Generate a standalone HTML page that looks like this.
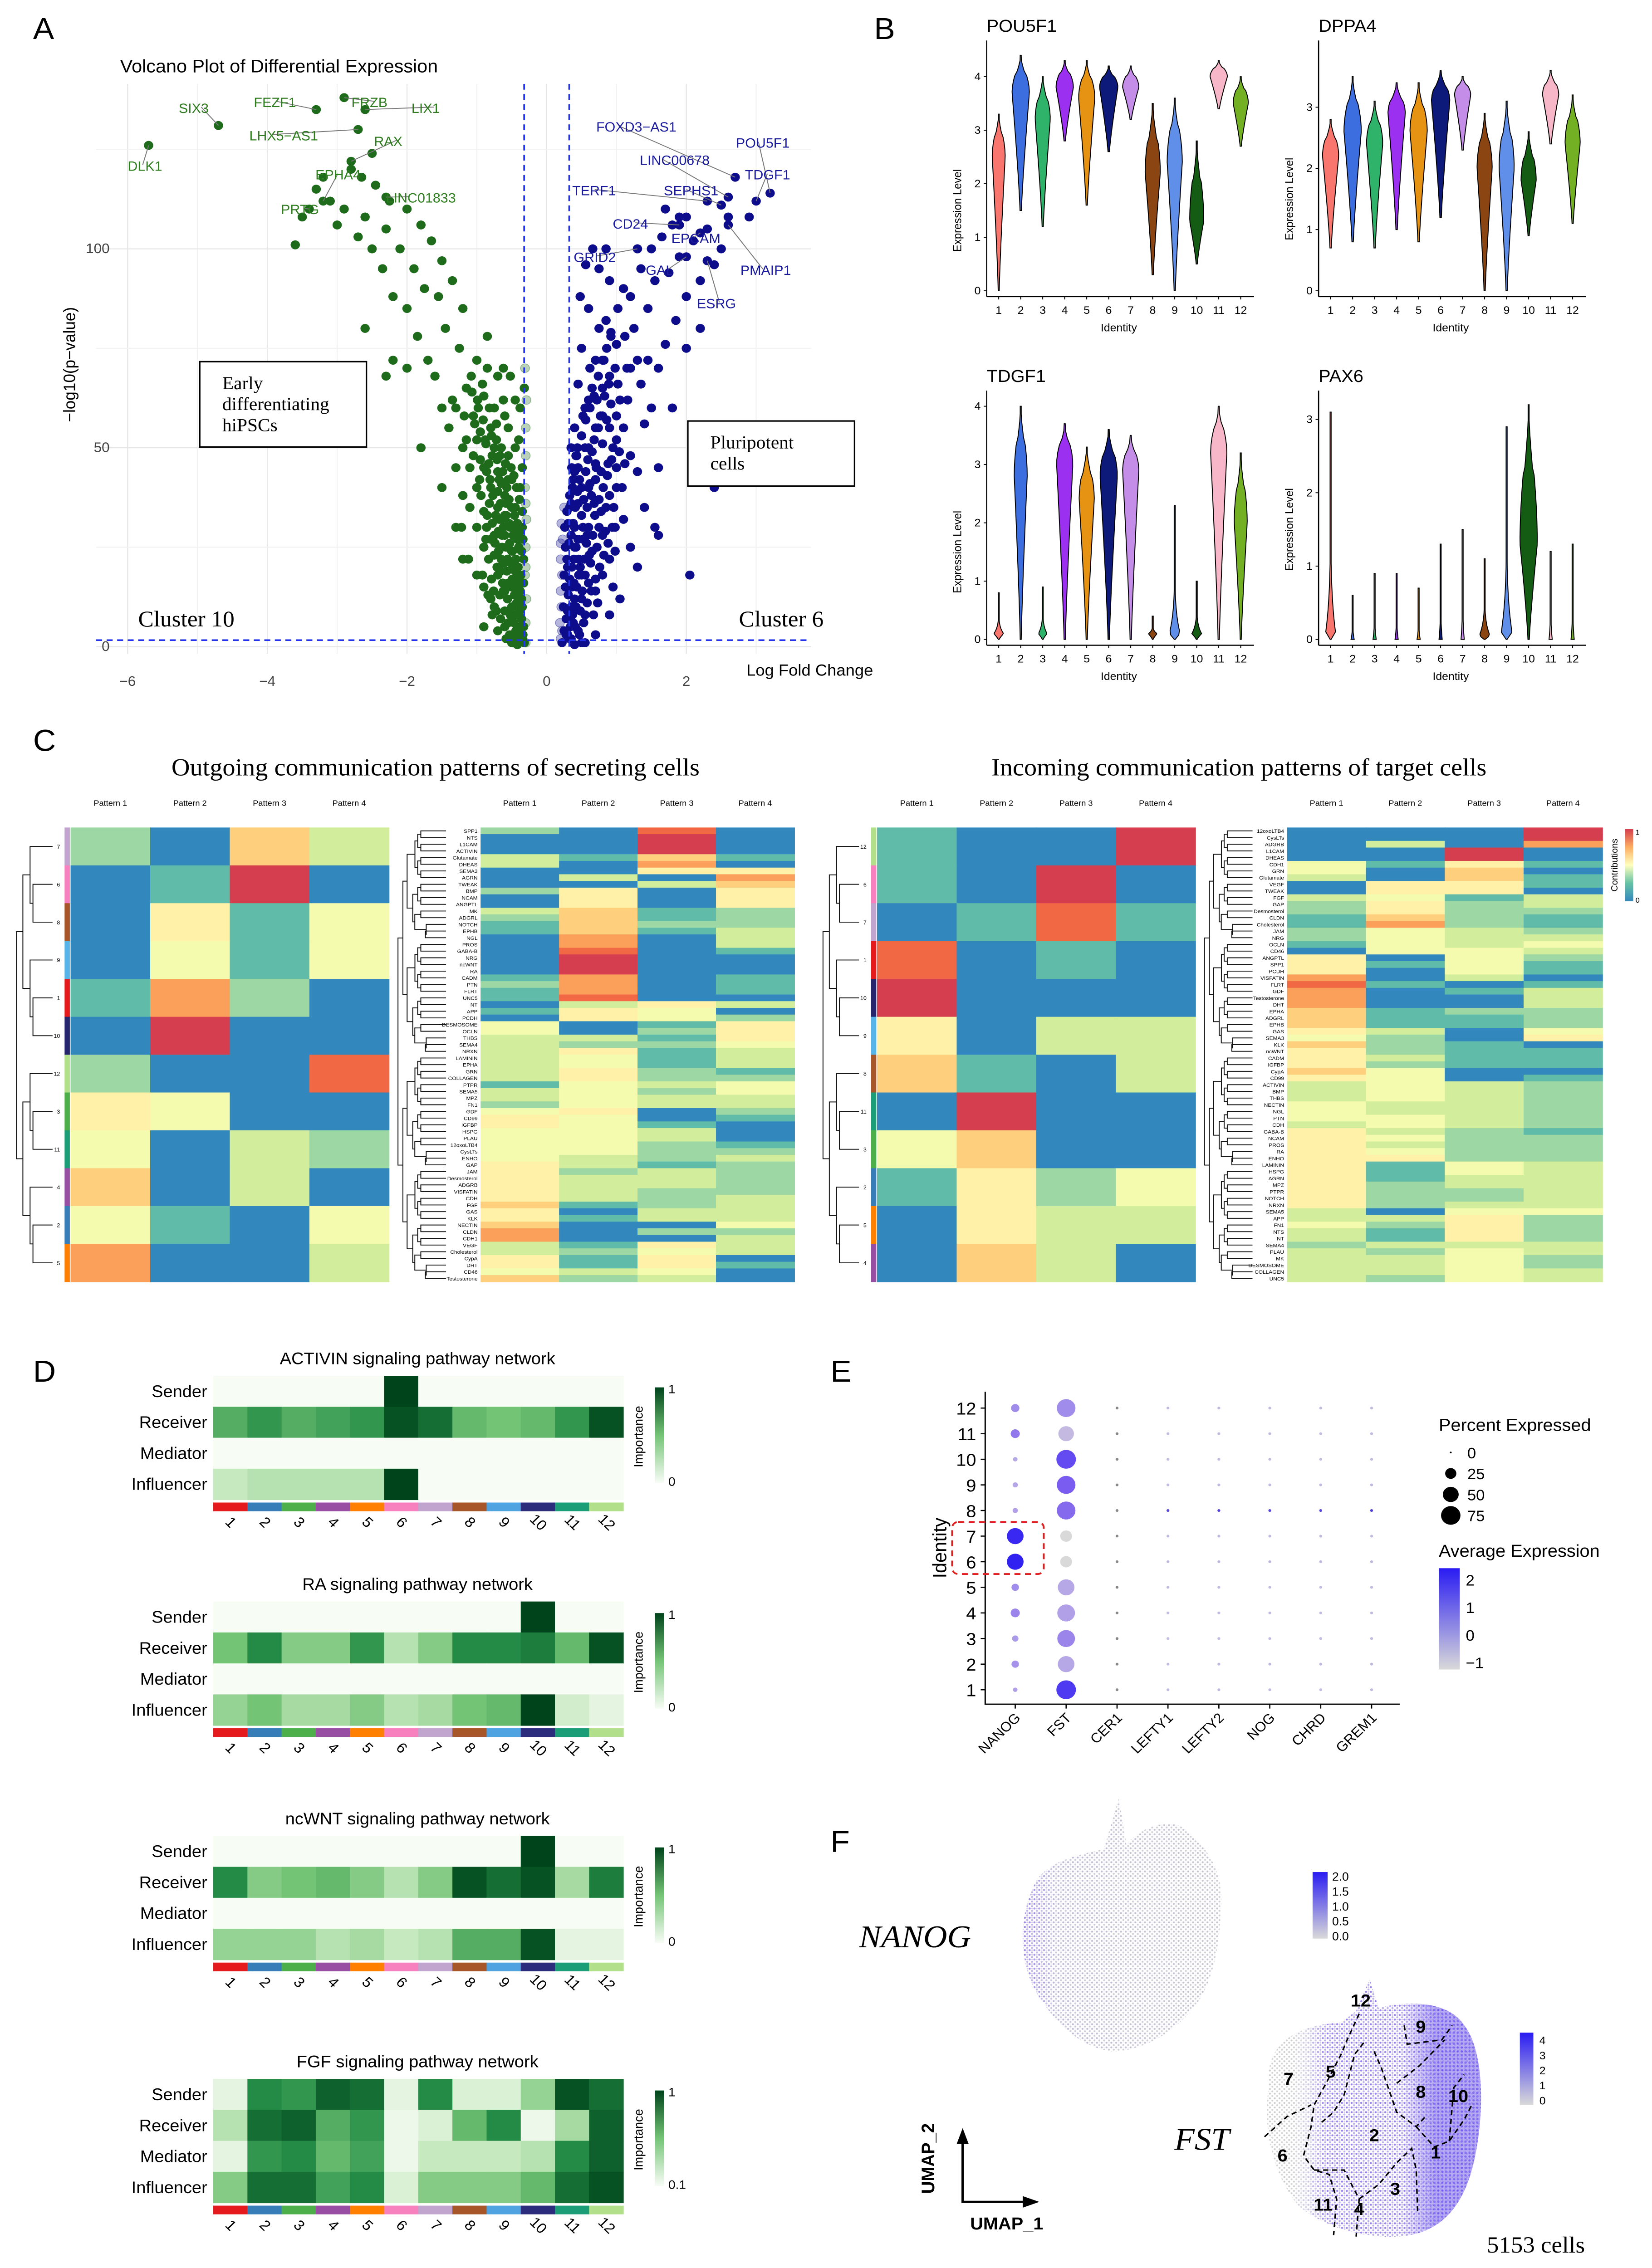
<!DOCTYPE html>
<html><head><meta charset="utf-8">
<style>
html,body{margin:0;padding:0;background:#fff;width:100vw;height:100vh;overflow:hidden;}
svg{display:block;position:absolute;left:0;top:0;width:100vw;height:100vh;}
text{font-family:"Liberation Sans",sans-serif;}
.serif{font-family:"Liberation Serif",serif;}
</style></head>
<body>
<svg id="fig" xmlns="http://www.w3.org/2000/svg" viewBox="0 0 1100 1567.7" preserveAspectRatio="none">
<defs>
<pattern id="greyDots" width="3.2" height="3.2" patternUnits="userSpaceOnUse"><circle cx="0.8" cy="0.8" r="0.65" fill="#cdcdcd"/><circle cx="2.4" cy="2.4" r="0.65" fill="#d4d4d4"/></pattern>
<pattern id="purpDots" width="3.2" height="3.2" patternUnits="userSpaceOnUse"><circle cx="0.8" cy="0.8" r="0.7" fill="#9a83ee"/><circle cx="2.4" cy="2.4" r="0.7" fill="#bdb0ea"/><circle cx="2.4" cy="0.8" r="0.55" fill="#cfc8ea"/></pattern>
<pattern id="purpDense" width="2.6" height="2.6" patternUnits="userSpaceOnUse"><rect width="2.6" height="2.6" fill="#a597ef"/><circle cx="0.9" cy="0.9" r="0.8" fill="#6a50f0"/></pattern>
<linearGradient id="gradSpec" x1="0" y1="1" x2="0" y2="0"><stop offset="0" stop-color="#3288bd"/><stop offset="0.25" stop-color="#66c2a5"/><stop offset="0.5" stop-color="#ffffbf"/><stop offset="0.75" stop-color="#fdae61"/><stop offset="1" stop-color="#d53e4f"/></linearGradient>
<linearGradient id="gradGreen" x1="0" y1="1" x2="0" y2="0"><stop offset="0" stop-color="#f7fcf5"/><stop offset="0.5" stop-color="#74c476"/><stop offset="1" stop-color="#00441b"/></linearGradient>
<linearGradient id="gradBlue" x1="0" y1="1" x2="0" y2="0"><stop offset="0" stop-color="#d9d9d9"/><stop offset="1" stop-color="#2a1cf2"/></linearGradient>
<linearGradient id="gradUmap" x1="0" y1="1" x2="0" y2="0"><stop offset="0" stop-color="#d9d9d9"/><stop offset="1" stop-color="#2a1cf2"/></linearGradient>
<linearGradient id="fadeN" x1="675" y1="0" x2="815" y2="0" gradientUnits="userSpaceOnUse"><stop offset="0" stop-color="#fff"/><stop offset="0.08" stop-color="#ddd"/><stop offset="0.2" stop-color="#444"/><stop offset="0.5" stop-color="#2a2a2a"/><stop offset="1" stop-color="#1a1a1a"/></linearGradient>
<linearGradient id="fadeFL" x1="838" y1="0" x2="985" y2="0" gradientUnits="userSpaceOnUse"><stop offset="0" stop-color="#fff"/><stop offset="0.15" stop-color="#fff"/><stop offset="0.3" stop-color="#000"/><stop offset="1" stop-color="#000"/></linearGradient>
<linearGradient id="fadeFR" x1="838" y1="0" x2="985" y2="0" gradientUnits="userSpaceOnUse"><stop offset="0" stop-color="#000"/><stop offset="0.65" stop-color="#000"/><stop offset="0.8" stop-color="#fff"/><stop offset="1" stop-color="#fff"/></linearGradient>
<mask id="maskN" maskUnits="userSpaceOnUse" x="600" y="1200" width="350" height="300"><rect x="660" y="1230" width="170" height="200" fill="url(#fadeN)"/></mask>
<mask id="maskFL" maskUnits="userSpaceOnUse" x="800" y="1340" width="260" height="240"><rect x="830" y="1360" width="170" height="200" fill="url(#fadeFL)"/></mask>
<mask id="maskFR" maskUnits="userSpaceOnUse" x="800" y="1340" width="260" height="240"><rect x="830" y="1360" width="170" height="200" fill="url(#fadeFR)"/></mask>
<clipPath id="clipN"><path d="M690,1300 C700,1285 720,1282 735,1278 L745,1243 L750,1275 C760,1262 780,1256 790,1265 C805,1278 815,1295 813,1320 C812,1345 808,1365 800,1380 C785,1405 760,1418 740,1418 C720,1415 705,1400 695,1385 C680,1365 675,1330 690,1300Z"/></clipPath>
<clipPath id="clipF"><path d="M845,1442 C842,1415 860,1400 893,1398 L903,1390 L912,1368 L918,1388 C940,1382 965,1384 975,1400 C990,1420 988,1470 980,1500 C972,1530 955,1545 930,1546 C905,1547 880,1538 865,1525 C848,1505 840,1470 845,1442Z"/></clipPath>
</defs>
</svg>
<script>
const NS='http://www.w3.org/2000/svg';
const fig=document.getElementById('fig');
function mk(tag,attrs,parent){const e=document.createElementNS(NS,tag);for(const k in attrs)e.setAttribute(k,attrs[k]);(parent||fig).appendChild(e);return e;}
function tx(x,y,s,size,extra){const e=mk('text',Object.assign({x:x,y:y,'font-size':size},extra||{}));e.textContent=s;return e;}
function lerpColor(stops,v){v=Math.max(0,Math.min(1,v));const n=stops.length-1;const i=Math.min(n-1,Math.floor(v*n));const t=v*n-i;
 const a=stops[i],b=stops[i+1];const p=h=>[parseInt(h.substr(1,2),16),parseInt(h.substr(3,2),16),parseInt(h.substr(5,2),16)];
 const A=p(a),B=p(b);return 'rgb('+A.map((c,k)=>Math.round(c+(B[k]-c)*t)).join(',')+')';}
const spectral=['#3288bd','#66c2a5','#abdda4','#e6f598','#ffffbf','#fee08b','#fdae61','#f46d43','#d53e4f'];
const greens=['#f7fcf5','#c7e9c0','#74c476','#238b45','#00441b'];

/* ================= PANEL LABELS ================= */
const panelLetters=['A','B','C','D','E','F'];
const panelLX=[22,582,22,22,553,553];
const panelLY=[27,27,519,955,955,1280];
panelLetters.forEach((l,i)=>{const t=tx(panelLX[i],panelLY[i],l,21);

});

/* ================= PANEL A: VOLCANO ================= */
const greenPoints=[[-0.35,2],[-0.38,5],[-0.4,8],[-0.36,12],[-0.42,15],[-0.45,3],[-0.5,10],[-0.55,6],[-0.48,20],[-0.6,14],[-0.4,25],[-0.65,22],[-0.7,18],[-0.52,30],[-0.75,28],[-0.8,12],[-0.45,35],[-0.6,38],[-0.85,33],[-0.9,25],[-0.38,40],[-0.7,44],[-1.0,40],[-0.55,48],[-0.95,47],[-1.1,35],[-0.4,52],[-0.8,55],[-1.2,50],[-0.6,58],[-1.05,58],[-1.3,45],[-0.45,62],[-0.9,63],[-1.4,55],[-1.15,65],[-0.7,68],[-1.35,62],[-1.5,60],[-1.0,72],[-1.25,75],[-1.6,68],[-0.85,78],[-1.45,80],[-1.7,72],[-1.2,85],[-1.55,88],[-1.85,78],[-1.35,92],[-1.75,90],[-2.0,85],[-1.5,97],[-1.9,95],[-2.2,88],[-1.65,102],[-2.1,100],[-2.35,95],[-1.8,106],[-2.3,105],[-2.5,100],[-2.0,110],[-2.6,108],[-2.7,103],[-2.25,112],[-2.9,110],[-3.0,106],[-2.45,116],[-3.1,112],[-2.65,118],[-3.3,115],[-2.8,120],[-3.5,108],[-3.2,118],[-2.5,124],[-3.6,101],[-1.3,30],[-1.5,40],[-1.8,50],[-0.5,42],[-0.65,32],[-0.75,10],[-0.58,2],[-0.9,5],[-1.0,18],[-1.2,22],[-0.42,0.5],[-0.55,16],[-0.35,45],[-0.38,60],[-0.62,70],[-2.2,72],[-2.6,80],[-0.32,65],[-2.3,68],[-2.0,70],[-0.4,18],[-0.5,24],[-0.6,28],[-0.7,35],[-0.8,40],[-0.9,45],[-0.35,30],[-0.45,50],[-0.55,55],[-0.65,50],[-0.75,60],[-1.0,52],[-1.1,45],[-1.2,38],[-1.3,60],[-0.85,70],[-1.0,30],[-0.9,15],[-0.7,4],[-0.5,1],[-0.33,22],[-0.48,28],[-0.58,36],[-0.68,42],[-0.78,48],[-0.88,52],[-0.98,60],[-1.08,68],[-0.72,52],[-0.62,62],[-0.52,68]];
const greenDense=[[-0.32,1],[-0.34,3],[-0.37,1.5],[-0.41,2.5],[-0.44,4],[-0.47,6],[-0.36,7],[-0.39,9],[-0.43,11],[-0.46,13],[-0.5,15],[-0.33,16],[-0.37,18],[-0.41,20],[-0.44,22],[-0.49,24],[-0.53,26],[-0.57,19],[-0.61,21],[-0.64,25],[-0.34,27],[-0.38,29],[-0.42,31],[-0.46,33],[-0.5,35],[-0.54,37],[-0.58,33],[-0.62,30],[-0.66,36],[-0.7,39],[-0.74,26],[-0.78,31],[-0.82,36],[-0.86,30],[-0.9,34],[-0.94,38],[-0.52,8],[-0.56,12],[-0.6,9],[-0.63,16],[-0.67,13],[-0.71,20],[-0.75,23],[-0.79,17],[-0.83,22],[-0.87,27],[-0.35,34],[-0.39,37],[-0.43,40],[-0.47,43],[-0.51,45],[-0.55,42],[-0.59,46],[-0.63,44],[-0.67,48],[-0.71,47],[-0.75,50],[-0.79,53],[-0.83,46],[-0.87,51],[-0.91,57],[-0.95,54],[-0.99,62],[-1.03,56],[-1.07,64],[-0.4,4],[-0.45,8],[-0.36,24],[-0.48,1],[-0.53,3],[-0.6,5],[-0.66,7],[-0.72,9],[-0.78,8],[-0.84,13],[-0.92,18],[-1.12,22],[-1.22,30],[-0.42,27],[-0.47,30],[-0.56,22],[-0.6,33],[-0.69,29],[-0.73,33],[-0.77,38],[-0.81,42],[-0.86,44],[-0.96,42],[-1.05,48],[-1.15,52],[-1.18,58],[-0.57,40],[-0.65,41],[-0.72,56],[-0.82,60],[-0.92,66],[-0.33,5],[-0.38,14],[-0.49,17],[-0.62,14],[-0.54,31],[-0.66,19],[-0.35,10],[-0.4,16],[-0.45,19],[-0.51,21],[-0.58,25],[-0.64,28],[-0.69,24],[-0.76,14],[-0.8,27],[-0.68,32]];
const greenLabeled=[[-5.7,126],[-4.7,131],[-3.3,135],[-2.9,138],[-2.6,135],[-2.7,130],[-2.8,122],[-3.2,112],[-3.4,110],[-2.3,113]];
const greenNames=['DLK1','SIX3','FEZF1','FRZB','LIX1','LHX5−AS1','RAX','EPHA4','PRTG','LINC01833'];
const blueNames=['POU5F1','TDGF1','FOXD3−AS1','LINC00678','SEPHS1','TERF1','CD24','EPCAM','GAL','GRID2','ESRG','PMAIP1'];
const blueLabeled=[[3.2,114],[3.0,112],[2.7,118],[2.6,113],[2.5,111],[2.3,112],[1.9,106],[2.2,104],[2.0,98],[1.3,100],[2.3,97],[2.6,106]];
const bluePoints=[[0.35,2],[0.38,6],[0.42,10],[0.36,15],[0.45,4],[0.5,12],[0.55,8],[0.48,20],[0.6,16],[0.4,25],[0.65,24],[0.7,14],[0.52,30],[0.75,30],[0.8,18],[0.45,36],[0.6,40],[0.85,35],[0.9,22],[0.38,42],[0.7,46],[1.0,40],[0.55,50],[0.95,50],[1.1,32],[0.4,55],[0.8,58],[1.2,48],[0.6,62],[1.05,62],[1.3,44],[0.45,66],[0.9,68],[1.4,56],[1.15,70],[0.7,72],[1.35,66],[1.5,60],[1.0,76],[1.25,80],[1.6,70],[0.85,82],[1.45,85],[1.7,76],[1.2,88],[1.55,92],[1.85,82],[1.35,95],[1.75,94],[2.0,88],[1.5,100],[1.9,98],[2.2,92],[1.65,103],[2.1,102],[2.4,96],[1.8,106],[2.3,105],[2.5,100],[2.0,108],[2.6,108],[1.1,90],[0.9,92],[1.3,100],[0.5,75],[0.6,85],[0.75,95],[1.0,58],[1.2,25],[1.4,35],[1.6,45],[0.4,0.5],[0.55,1],[0.7,3],[0.9,8],[1.05,12],[0.3,20],[0.33,35],[0.35,50],[1.8,60],[2.0,75],[2.2,80],[1.9,108],[2.2,104],[2.5,111],[2.9,108],[1.7,110],[2.05,18],[2.4,40],[0.4,30],[0.5,40],[0.6,50],[0.7,55],[0.8,65],[0.45,45],[0.55,60],[0.65,65],[0.75,80],[0.9,55],[1.0,45],[1.1,55],[0.8,28],[0.95,15],[0.5,18],[0.35,10],[0.42,48],[0.52,58],[0.62,70],[0.72,62],[0.82,72],[0.92,78],[1.02,85],[1.12,78],[0.58,28],[0.68,36],[0.78,44],[0.88,46],[0.98,30],[1.3,72],[1.45,72],[0.48,88],[0.56,96],[0.66,100],[0.85,100]];
const blueDense=[[0.22,1],[0.25,4],[0.28,7],[0.24,10],[0.3,3],[0.34,5],[0.37,8],[0.4,12],[0.43,15],[0.46,18],[0.31,13],[0.33,17],[0.36,20],[0.39,22],[0.42,25],[0.45,27],[0.48,9],[0.51,14],[0.54,22],[0.57,26],[0.6,30],[0.63,21],[0.66,28],[0.69,33],[0.72,25],[0.75,37],[0.78,34],[0.81,40],[0.84,29],[0.87,43],[0.9,38],[0.93,47],[0.96,35],[1.0,52],[1.04,49],[0.35,28],[0.38,31],[0.41,35],[0.44,39],[0.47,42],[0.5,33],[0.53,37],[0.56,44],[0.59,47],[0.62,41],[0.65,49],[0.68,52],[0.71,45],[0.74,55],[0.77,58],[0.8,51],[0.83,63],[0.86,57],[0.89,66],[0.92,61],[0.27,15],[0.29,22],[0.32,26],[0.26,30],[0.29,34],[0.33,38],[0.37,40],[0.4,44],[0.3,9],[0.41,5],[0.47,3],[0.53,6],[0.58,11],[0.64,14],[0.7,17],[0.76,20],[0.82,23],[0.88,26],[0.94,30],[0.98,24],[1.08,40],[1.12,46],[1.16,62],[1.2,70],[0.44,50],[0.5,53],[0.56,57],[0.62,60],[0.68,63],[0.74,68],[0.8,72],[0.86,75],[0.92,79],[0.98,70],[1.02,66],[0.36,45],[0.43,48],[0.55,18],[0.61,23],[0.67,8],[0.73,11],[0.25,18],[0.33,2],[0.5,1],[1.3,20],[1.55,30],[1.6,28],[0.27,25],[0.31,31],[0.35,36],[0.39,16],[0.46,22],[0.52,27],[0.58,35],[0.64,38],[0.7,42],[0.28,3]];
const fadedGreen=[[-0.3,1],[-0.3,6],[-0.29,12],[-0.31,18],[-0.3,25],[-0.29,32],[-0.31,40],[-0.3,48],[-0.3,55],[-0.29,62],[-0.31,70],[-0.3,36],[-0.3,20]];
const fadedBlue=[[0.2,2],[0.19,6],[0.21,10],[0.2,14],[0.22,18],[0.2,22],[0.23,27],[0.21,31],[0.25,35],[0.2,26],[0.22,4]];
const xTicksA=[-6,-4,-2,0,2];
const yTicksA=[0,50,100];
const xA=v=>364+v*46.5;
const yA=v=>447-v*2.75;
const gA=mk('g',{});


const ttlA=tx(80,50,'Volcano Plot of Differential Expression',12.5,{});gA.appendChild(ttlA);


for(let v=-6;v<=3;v+=1){const l=mk('line',{x1:xA(v),x2:xA(v),y1:58,y2:452,stroke:v%2===0?'#e6e6e6':'#f2f2f2','stroke-width':0.7},gA);

}
for(let v=0;v<=125;v+=25){const l=mk('line',{x1:64,x2:540,y1:yA(v),y2:yA(v),stroke:v%50===0?'#e6e6e6':'#f2f2f2','stroke-width':0.7},gA);

}
xTicksA.forEach(v=>{const t=tx(xA(v),474,String(v).replace('-','−'),9.5,{'text-anchor':'middle',fill:'#444'});gA.appendChild(t);

});
yTicksA.forEach(v=>{const t=tx(73,yA(v)+3,String(v),9.5,{'text-anchor':'end',fill:'#444'});gA.appendChild(t);

});
const xl=tx(497,467,'Log Fold Change',11,{});gA.appendChild(xl);


const yl=tx(0,0,'−log10(p−value)',11,{transform:'translate(50,252) rotate(-90)','text-anchor':'middle'});gA.appendChild(yl);


fadedGreen.forEach(p=>{const c=mk('circle',{cx:xA(p[0]),cy:yA(p[1]),r:3,fill:'#1f6b1c','fill-opacity':0.3,stroke:'#1f6b1c','stroke-opacity':0.4,'stroke-width':0.5},gA);

});
fadedBlue.forEach(p=>{const c=mk('circle',{cx:xA(p[0]),cy:yA(p[1]),r:3,fill:'#0d0d8c','fill-opacity':0.3,stroke:'#0d0d8c','stroke-opacity':0.4,'stroke-width':0.5},gA);

});
greenPoints.concat(greenDense,greenLabeled).forEach(p=>{const c=mk('circle',{cx:xA(p[0]),cy:yA(p[1]),r:3.1,fill:'#1f6b1c'},gA);

});
bluePoints.concat(blueDense,blueLabeled).forEach(p=>{const c=mk('circle',{cx:xA(p[0]),cy:yA(p[1]),r:3.1,fill:'#0d0d8c'},gA);

});
[349,379].forEach(x=>{const l=mk('line',{x1:x,x2:x,y1:58,y2:452,stroke:'#2233ee','stroke-width':1.1,'stroke-dasharray':'4,3'},gA);

});
const hl=mk('line',{x1:64,x2:540,y1:442.5,y2:442.5,stroke:'#2233ee','stroke-width':1.1,'stroke-dasharray':'4,3'},gA);


const gLabX=[85,119,169,234,274,166,249,210,187,257];
const gLabY=[118,78,74,74,78,97,101,124,148,140];
greenNames.forEach((n,i)=>{const px=xA(greenLabeled[i][0]),py=yA(greenLabeled[i][1]);
const ln=mk('line',{x1:px,y1:py,x2:gLabX[i]+(i===0?10:15),y2:gLabY[i]-4,stroke:'#777','stroke-width':0.6},gA);


const t=tx(gLabX[i],gLabY[i],n,9.2,{fill:'#2e7d1e'});gA.appendChild(t);

});
const bLabX=[490,496,397,426,442,381,408,447,430,382,464,493];
const bLabY=[102,124,91,114,135,135,158,168,190,181,213,190];
blueNames.forEach((n,i)=>{const px=xA(blueLabeled[i][0]),py=yA(blueLabeled[i][1]);
const ln=mk('line',{x1:px,y1:py,x2:bLabX[i]+15,y2:bLabY[i]-4,stroke:'#777','stroke-width':0.6},gA);


const t=tx(bLabX[i],bLabY[i],n,9.2,{fill:'#1a1a9c'});gA.appendChild(t);

});
const box1=mk('rect',{x:133,y:250,width:111,height:59,fill:'#fff',stroke:'#000','stroke-width':1},gA);


['Early','differentiating','hiPSCs'].forEach((s,i)=>{const t=tx(148,269+i*14.5,s,12.5,{class:'serif'});gA.appendChild(t);

});
const box2=mk('rect',{x:458,y:291,width:111,height:45,fill:'#fff',stroke:'#000','stroke-width':1},gA);


['Pluripotent','cells'].forEach((s,i)=>{const t=tx(473,310+i*14.5,s,12.5,{class:'serif'});gA.appendChild(t);

});
const c10=tx(92,433,'Cluster 10',15.5,{class:'serif'});gA.appendChild(c10);


const c6=tx(492,433,'Cluster 6',15.5,{class:'serif'});gA.appendChild(c6);



/* ================= PANEL B: VIOLINS ================= */
const identities=[1,2,3,4,5,6,7,8,9,10,11,12];
const violinColors=['#f8766d','#3d6ee0','#2fb36a','#9b30f0','#e69212','#0d1a7a','#c48de8','#8b4513','#5f8fe8','#145c14','#f7b7c8','#74b024'];
const pouTop=[3.3,4.4,4.0,4.3,4.3,4.2,4.2,3.5,3.6,2.8,4.3,4.0];
const pouPeak=[2.5,3.7,3.2,3.8,3.6,3.8,3.8,2.2,2.4,1.3,4.0,3.5];
const pouBot=[0,1.5,1.2,2.8,1.6,2.6,3.2,0.3,0,0.5,3.4,2.7];
const pouW=[0.6,0.8,0.7,0.8,0.75,0.85,0.75,0.7,0.7,0.65,0.8,0.7];
const dppTop=[2.8,3.5,3.1,3.4,3.4,3.6,3.5,2.9,3.1,2.6,3.6,3.2];
const dppPeak=[2.2,2.6,2.4,2.9,2.6,3.1,3.2,2.0,2.0,1.8,3.2,2.4];
const dppBot=[0.7,0.8,0.7,1.0,0.8,1.2,2.3,0,0,0.9,2.4,1.1];
const dppW=[0.75,0.8,0.75,0.8,0.8,0.85,0.75,0.7,0.7,0.7,0.75,0.7];
const tdgTop=[0.8,4.0,0.9,3.7,3.3,3.6,3.5,0.4,2.3,1.0,4.0,3.2];
const tdgPeak=[0.1,2.8,0.1,3.0,2.4,2.8,2.9,0.1,0.1,0.1,3.2,2.0];
const tdgBot=[0,0,0,0,0,0,0,0,0,0,0,0];
const tdgW=[0.45,0.6,0.4,0.75,0.7,0.8,0.75,0.4,0.5,0.45,0.75,0.6];
const paxTop=[3.1,0.6,0.9,0.9,0.7,1.3,1.5,1.1,2.9,3.2,1.2,1.3];
const paxPeak=[0.05,0,0,0,0,0,0,0.05,0.1,1.3,0,0];
const paxBot=[0,0,0,0,0,0,0,0,0,0,0,0];
const paxW=[0.5,0.15,0.15,0.15,0.15,0.15,0.15,0.5,0.5,0.8,0.15,0.15];
const violinTicksPou=[0,1,2,3,4], violinTicksDpp=[0,1,2,3], violinTicksTdg=[0,1,2,3,4], violinTicksPax=[0,1,2,3];
function violinPanel(name,gx,y0,ppu,top,peak,bot,wid,ticks,titleY){
 const g=mk('g',{});
 
 
 const x0=gx+8, step=14.65;
 const yS=v=>y0-v*ppu;
 const t=tx(gx,titleY,name,12,{});g.appendChild(t);
 
 
 const ax=mk('line',{x1:gx,x2:gx,y1:titleY+6,y2:y0+4,stroke:'#000','stroke-width':0.8},g);
 
 
 const bx=mk('line',{x1:gx,x2:gx+178,y1:y0+4,y2:y0+4,stroke:'#000','stroke-width':0.8},g);
 
 
 ticks.forEach(v=>{const l=tx(gx-4,yS(v)+2.5,String(v),7.5,{'text-anchor':'end'});g.appendChild(l);
  
  
  const tk=mk('line',{x1:gx-2,x2:gx,y1:yS(v),y2:yS(v),stroke:'#000','stroke-width':0.6},g);
  
  });
 const yl=tx(0,0,'Expression Level',7.5,{transform:'translate('+(gx-17)+','+(y0-ppu*1.5)+') rotate(-90)','text-anchor':'middle'});g.appendChild(yl);
 
 
 const xl=tx(gx+88,y0+28,'Identity',7.5,{'text-anchor':'middle'});g.appendChild(xl);
 
 
 identities.forEach((id,i)=>{
  const cx=x0+i*step, W=wid[i]*7.2;
  const b=bot[i],p=peak[i],tp=top[i];
  const pts=[];const N=30;
  for(let k=0;k<=N;k++){const v=b+(tp-b)*k/N;let w;
   if(v<=p){w=(p-b)<1e-6?W:W*(0.08+0.92*Math.pow((v-b)/(p-b),1.2));}
   else{const r=(v-p)/(tp-p);
    if(p-b<0.2){w=W*Math.pow(Math.max(0,1-r),6);}
    else{w=W*Math.pow(Math.max(0,1-r*r),1.6)*(r>0.5?0.6+0.4*(1-r):1);}
    if(w<0.35)w=0.35;}
   pts.push([w,yS(v)]);}
  let d='M'+cx+','+yS(b);
  pts.forEach(q=>d+=' L'+(cx+q[0]).toFixed(2)+','+q[1].toFixed(2));
  d+=' L'+cx+','+yS(tp);
  for(let k=pts.length-1;k>=0;k--)d+=' L'+(cx-pts[k][0]).toFixed(2)+','+pts[k][1].toFixed(2);
  d+='Z';
  const vp=mk('path',{d:d,fill:violinColors[i],stroke:'#000','stroke-width':0.6},g);
  
  
  const lb=tx(cx,y0+16,String(id),7.5,{'text-anchor':'middle'});g.appendChild(lb);
  
  
  const tk=mk('line',{x1:cx,x2:cx,y1:y0+4,y2:y0+6,stroke:'#000','stroke-width':0.6},g);
  
  });
}
violinPanel('POU5F1',657,201,37,pouTop,pouPeak,pouBot,pouW,violinTicksPou,22);
violinPanel('DPPA4',878,201,42.3,dppTop,dppPeak,dppBot,dppW,violinTicksDpp,22);
violinPanel('TDGF1',657,442,40.3,tdgTop,tdgPeak,tdgBot,tdgW,violinTicksTdg,264);
violinPanel('PAX6',878,442,50.7,paxTop,paxPeak,paxBot,paxW,violinTicksPax,264);

/* ================= PANEL C: HEATMAPS ================= */
const patternLabels=['Pattern 1','Pattern 2','Pattern 3','Pattern 4'];
const identityColors=['#e41a1c','#377eb8','#4daf4a','#984ea3','#ff7f00','#f781bf','#c2a5cf','#a65628','#56b4e9','#26266e','#1b9e77','#b2df8a'];
const outRowIds=[7,6,8,9,1,10,12,3,11,4,2,5];
const outVals=[[2,0,6,3],[0,1,9,0],[0,5,1,4],[0,4,1,4],[1,7,2,0],[0,9,0,0],[2,0,0,8],[5,4,0,0],[4,0,3,2],[6,0,3,0],[4,1,0,4],[7,0,0,3]];
const inRowIds=[12,6,7,1,10,9,8,11,3,2,5,4];
const inVals=[[1,0,0,9],[1,0,9,0],[0,1,8,1],[8,0,1,0],[9,0,0,0],[5,0,3,3],[6,1,0,3],[0,9,0,0],[4,6,0,0],[1,5,2,4],[0,5,3,3],[0,6,3,0]];
const outSigNames=['SPP1','NTS','L1CAM','ACTIVIN','Glutamate','DHEAS','SEMA3','AGRN','TWEAK','BMP','NCAM','ANGPTL','MK','ADGRL','NOTCH','EPHB','NGL','PROS','GABA-B','NRG','ncWNT','RA','CADM','PTN','FLRT','UNC5','NT','APP','PCDH','DESMOSOME','OCLN','THBS','SEMA4','NRXN','LAMININ','EPHA','GRN','COLLAGEN','PTPR','SEMA5','MPZ','FN1','GDF','CD99','IGFBP','HSPG','PLAU','12oxoLTB4','CysLTs','ENHO','GAP','JAM','Desmosterol','ADGRB','VISFATIN','CDH','FGF','GAS','KLK','NECTIN','CLDN','CDH1','VEGF','Cholesterol','CypA','DHT','CD46','Testosterone'];
const outSigVals=['2080','0090','0090','0090','3161','3070','0055','0307','0036','2505','0505','0505','3612','2612','1622','1613','0703','0703','0801','0900','0900','0900','1701','2701','1701','1800','0353','1540','0542','4015','4025','3315','3224','3513','3413','3413','3521','3522','1434','3424','3433','2433','4502','5401','5410','4430','4430','4421','4422','4323','5312','5232','5332','5332','5322','5323','6123','5033','5133','6004','7022','7003','3153','3243','5150','5151','4340','6230'];
const inSigNames=['12oxoLTB4','CysLTs','ADGRB','L1CAM','DHEAS','CDH1','GRN','Glutamate','VEGF','TWEAK','FGF','GAP','Desmosterol','CLDN','Cholesterol','JAM','NRG','OCLN','CD46','ANGPTL','SPP1','PCDH','VISFATIN','FLRT','GDF','Testosterone','DHT','EPHA','ADGRL','EPHB','GAS','SEMA3','KLK','ncWNT','CADM','IGFBP','CypA','CD99','ACTIVIN','BMP','THBS','NECTIN','NGL','PTN','CDH','GABA-B','NCAM','PROS','RA','ENHO','LAMININ','HSPG','AGRN','MPZ','PTPR','NOTCH','NRXN','SEMA5','APP','FN1','NTS','NT','SEMA4','PLAU','MK','DESMOSOME','COLLAGEN','UNC5'];
const inSigVals=['0009','0009','0307','0090','0090','4151','4060','3061','0551','0550','3413','2523','2522','1621','1721','2432','2433','1434','0443','5042','5141','5041','7030','8101','7013','7003','7003','6122','6112','6112','5304','4205','6210','5211','5311','5211','6400','5401','3432','3432','3432','4332','4332','4432','3432','5321','5422','5322','5422','5522','5143','5143','5133','5233','5223','5223','5233','3044','3352','4252','3152','3152','2333','3243','3342','3342','3343','3243'];
function dendro(x0,x1,yTop,rowH,n,g){
 function rec(a,b,depth){ if(b-a===1){return {y:yTop+(a+0.5)*rowH,x:x1};}
  const m=Math.floor((a+b)/2);const L=rec(a,m,depth+1),R=rec(m,b,depth+1);
  const levels=Math.ceil(Math.log2(n))+1;const x=x0+(x1-x0)*(depth/levels)*(0.7+0.3*((a*7+b*3)%5)/5);
  const p=mk('path',{d:'M'+L.x+','+L.y+' H'+x+' V'+R.y+' H'+R.x,fill:'none',stroke:'#111','stroke-width':0.6},g);
  
  
  return {y:(L.y+R.y)/2,x:x};}
 rec(0,n,0);
}
function heat12(name,x,y,w,h,ids,vals){
 const g=mk('g',{});
 
 
 const cw=w/4,rh=h/ids.length;
 patternLabels.forEach((p,j)=>{const t=tx(x+cw*(j+0.5),y-15,p,5.5,{'text-anchor':'middle'});g.appendChild(t);
  
  });
 ids.forEach((id,i)=>{
  const s=mk('rect',{x:x-4,y:y+i*rh,width:3.5,height:rh+0.2,fill:identityColors[id-1]},g);
  
  
  const lb=tx(x-7,y+(i+0.5)*rh+1.5,String(id),3.8,{'text-anchor':'end'});g.appendChild(lb);
  
  
  vals[i].forEach((v,j)=>{const r=mk('rect',{x:x+j*cw,y:y+i*rh,width:cw+0.3,height:rh+0.3,fill:lerpColor(spectral,v/9)},g);
   
   });});
 dendro(x-36,x-12,y,rh,ids.length,g);
}
function heatSig(name,x,y,w,h,names,vals){
 const g=mk('g',{});
 
 
 const cw=w/4,rh=h/names.length;
 patternLabels.forEach((p,j)=>{const t=tx(x+cw*(j+0.5),y-15,p,5.5,{'text-anchor':'middle'});g.appendChild(t);
  
  });
 names.forEach((n,i)=>{
  const lb=tx(x-2,y+(i+0.5)*rh+1.4,n,3.6,{'text-anchor':'end'});g.appendChild(lb);
  
  
  vals[i].split('').forEach((c,j)=>{const r=mk('rect',{x:x+j*cw,y:y+i*rh,width:cw+0.3,height:rh+0.3,fill:lerpColor(spectral,(+c)/9)},g);
   
   });});
 dendro(x-55,x-23,y,rh,names.length,g);
}
const t1=tx(290,536,'Outgoing communication patterns of secreting cells',17,{class:'serif','text-anchor':'middle'});


const t2=tx(825,536,'Incoming communication patterns of target cells',17,{class:'serif','text-anchor':'middle'});


heat12('outgoing-cluster-heatmap',47,572,212,314,outRowIds,outVals);
heatSig('outgoing-pathway-heatmap',320,572,209,314,outSigNames,outSigVals);
heat12('incoming-cluster-heatmap',584,572,212,314,inRowIds,inVals);
heatSig('incoming-pathway-heatmap',857,572,210,314,inSigNames,inSigVals);
const cb=mk('rect',{x:1082,y:573,width:5.5,height:50,fill:'url(#gradSpec)'});


const cb1=tx(1089,577,'1',5);
const cb0=tx(1089,624,'0',5);
const cbt=tx(0,0,'Contributions',6.2,{transform:'translate(1077,598) rotate(-90)','text-anchor':'middle'});



/* ================= PANEL D: NETWORK HEATMAPS ================= */
const netRoles=['Sender','Receiver','Mediator','Influencer'];
const netStripColors=['#e41a1c','#377eb8','#4daf4a','#984ea3','#ff7f00','#f781bf','#c2a5cf','#a65628','#4fa3e0','#2c2c7c','#1b9e77','#b2df8a'];
const activinVals=[[0,0,0,0,0,1,0,0,0,0,0,0],[0.6,0.7,0.6,0.65,0.7,0.95,0.85,0.55,0.5,0.55,0.7,0.95],[0,0,0,0,0,0,0,0,0,0,0,0],[0.25,0.3,0.3,0.3,0.3,1,0,0,0,0,0,0]];
const raVals=[[0,0,0,0,0,0,0,0,0,1,0,0],[0.5,0.75,0.45,0.45,0.7,0.3,0.45,0.75,0.75,0.8,0.55,0.95],[0,0,0,0,0,0,0,0,0,0,0,0],[0.4,0.5,0.35,0.35,0.45,0.3,0.35,0.5,0.55,1,0.2,0.1]];
const wntVals=[[0,0,0,0,0,0,0,0,0,1,0,0],[0.75,0.45,0.5,0.55,0.45,0.3,0.45,0.95,0.85,0.95,0.35,0.8],[0,0,0,0,0,0,0,0,0,0,0,0],[0.4,0.4,0.4,0.3,0.35,0.25,0.3,0.6,0.6,0.95,0.1,0.1]];
const fgfVals=[[0.1,0.75,0.7,0.9,0.85,0.1,0.75,0.15,0.15,0.4,0.95,0.85],[0.3,0.85,0.9,0.6,0.7,0.05,0.15,0.55,0.75,0.05,0.35,0.9],[0.1,0.7,0.75,0.55,0.65,0.05,0.25,0.25,0.25,0.3,0.75,0.9],[0.45,0.85,0.85,0.65,0.75,0.15,0.45,0.45,0.45,0.55,0.85,0.95]];
function net(name,title,titleY,vals,minLabel){
 const g=mk('g',{});
 
 
 const x0=142,cw=22.75,rh=21.4,top=titleY+12;
 const t=tx(278,titleY+4,title,11.5,{'text-anchor':'middle'});g.appendChild(t);
 
 
 netRoles.forEach((r,i)=>{const l=tx(138,top+(i+0.5)*rh+4,r,11.5,{'text-anchor':'end'});g.appendChild(l);
  
  
  vals[i].forEach((v,j)=>{const c=mk('rect',{x:x0+j*cw,y:top+i*rh,width:cw+0.3,height:rh+0.3,fill:lerpColor(greens,v)},g);
   
   });});
 const sy=top+4*rh+2;
 identities.forEach((id,j)=>{const s=mk('rect',{x:x0+j*cw,y:sy,width:cw+0.3,height:6,fill:netStripColors[j]},g);
  
  
  const l=tx(0,0,String(id),10,{transform:'translate('+(x0+j*cw+cw/2-2)+','+(sy+16)+') rotate(45)','text-anchor':'middle'});g.appendChild(l);
  
  });
 const cbar=mk('rect',{x:436,y:top+8,width:6,height:66,fill:'url(#gradGreen)'},g);
 
 
 const a=tx(445,top+12,'1',8.5);g.appendChild(a);
 const b=tx(445,top+76,minLabel,8.5);g.appendChild(b);
 const it=tx(0,0,'Importance',8.5,{transform:'translate(428,'+(top+42)+') rotate(-90)','text-anchor':'middle'});g.appendChild(it);
 
 
}
net('activin-network','ACTIVIN signaling pathway network',939,activinVals,'0');
net('ra-network','RA signaling pathway network',1095,raVals,'0');
net('ncwnt-network','ncWNT signaling pathway network',1257,wntVals,'0');
net('fgf-network','FGF signaling pathway network',1425,fgfVals,'0.1');

/* ================= PANEL E: DOT PLOT ================= */
const dotGenes=['NANOG','FST','CER1','LEFTY1','LEFTY2','NOG','CHRD','GREM1'];
const nanogPct=[3,8,6,12,8,40,40,4,4,3,12,10];
const nanogAvg=[0.2,0.4,0.3,0.6,0.5,2.2,2.1,0.2,0.1,0.1,0.8,0.5];
const fstPct=[55,40,45,45,40,20,20,50,50,55,35,50];
const fstAvg=[1.8,0.1,0.6,0.2,0.1,-1,-1,1.0,1.2,1.5,-0.3,0.5];
const otherPct=[1.2,1.2,1.2,1.2,1.2,1.2,1.2,1.2,1.2,1.2,1.2,1.2];
const otherAvg=[0,0,0,0,0,0,0,0.5,0,0,0,0];
const legendPct=[0,25,50,75];
const legendAvg=[2,1,0,-1];
const xE=i=>676+i*33.9;
const yE=id=>1168-(id-1)*17.7;
const rE=p=>Math.sqrt(p/75)*7.6;
const cE=a=>lerpColor(['#d9d9d9','#b6a7e6','#7a5df0','#2a1cf2'],(a+1)/3.3);
const gE=mk('g',{});


const axL=mk('path',{d:'M656,962 V1178 H932',fill:'none',stroke:'#000','stroke-width':0.9},gE);


identities.forEach(id=>{const t=tx(650,yE(id)+4.5,String(id),12,{'text-anchor':'end'});gE.appendChild(t);
 
 
 const tk=mk('line',{x1:653,x2:656,y1:yE(id),y2:yE(id),stroke:'#000','stroke-width':0.8},gE);
 
 });
dotGenes.forEach((g,i)=>{const t=tx(0,0,g,9.5,{transform:'translate('+(xE(i)+4)+',1188) rotate(-45)','text-anchor':'end'});gE.appendChild(t);
 
 
 const tk=mk('line',{x1:xE(i),x2:xE(i),y1:1178,y2:1181,stroke:'#000','stroke-width':0.8},gE);
 
 
 const pct=i===0?nanogPct:i===1?fstPct:otherPct;const avg=i===0?nanogAvg:i===1?fstAvg:otherAvg;
 identities.forEach((id,k)=>{const c=mk('circle',{cx:xE(i),cy:yE(id),r:Math.max(0.6,rE(pct[k])),fill:i<2?cE(avg[k]):(i===2?'#888':(avg[k]>0?'#5544dd':'#c0bce0'))},gE);
  
  });});
const yt=tx(0,0,'Identity',13,{transform:'translate(630,1070) rotate(-90)','text-anchor':'middle'});gE.appendChild(yt);


const rb=mk('rect',{x:634,y:1052,width:61,height:36,rx:4,fill:'none',stroke:'#e02020','stroke-width':1.2,'stroke-dasharray':'4,3'},gE);


const lp=tx(958,989,'Percent Expressed',12);gE.appendChild(lp);


legendPct.forEach((p,i)=>{const cy=1004+i*14.5;const c=mk('circle',{cx:966,cy:cy,r:Math.max(0.6,rE(p)*0.85),fill:'#000'},gE);
 
 
 const t=tx(977,cy+4,String(p),10.5);gE.appendChild(t);
 
 });
const la=tx(958,1076,'Average Expression',12);gE.appendChild(la);


const eb=mk('rect',{x:958,y:1084,width:14,height:70,fill:'url(#gradBlue)'},gE);


legendAvg.forEach((v,i)=>{const t=tx(976,1096+i*19,String(v).replace('-','−'),10.5);gE.appendChild(t);
 
 });

/* ================= PANEL F: UMAP ================= */
const gF=mk('g',{});


const nb=mk('rect',{x:670,y:1235,width:160,height:195,fill:'url(#greyDots)','clip-path':'url(#clipN)'},gF);


const npg=mk('g',{'clip-path':'url(#clipN)'},gF);


const np=mk('rect',{x:670,y:1235,width:160,height:195,fill:'url(#purpDots)',mask:'url(#maskN)'},npg);


const nt=tx(572,1346,'NANOG',22,{class:'serif','font-style':'italic'});gF.appendChild(nt);


const fgp=mk('g',{'clip-path':'url(#clipF)'},gF);


const fb=mk('rect',{x:835,y:1365,width:160,height:195,fill:'url(#purpDots)'},fgp);


const fgw=mk('rect',{x:835,y:1365,width:160,height:195,fill:'#fff',mask:'url(#maskFL)'},fgp);


const fg=mk('rect',{x:835,y:1365,width:160,height:195,fill:'url(#greyDots)',mask:'url(#maskFL)'},fgp);


const fd=mk('rect',{x:835,y:1365,width:160,height:195,fill:'url(#purpDense)',mask:'url(#maskFR)',opacity:0.8},fgp);


const borders=['M905,1392 L897,1410 L893,1420 L883,1440 L875,1455 L873,1470 L868,1490 L875,1500 L885,1503 L890,1520 L888,1545',
'M908,1412 L902,1420 L895,1448 L888,1460 L880,1467',
'M915,1418 L920,1430 L930,1460 L943,1470 L950,1462',
'M842,1477 L857,1463 L873,1455',
'M875,1500 L895,1500 L905,1520 L903,1546',
'M905,1520 L918,1510 L930,1495 L940,1485 L943,1500 L944,1530',
'M943,1470 L955,1484 L965,1480 L975,1465 L980,1455',
'M935,1400 L937,1413 L960,1410 L967,1400',
'M930,1440 L945,1428 L962,1410',
'M965,1480 L968,1443 L975,1434'];
borders.forEach(d=>{const p=mk('path',{d:d,fill:'none',stroke:'#000','stroke-width':1,'stroke-dasharray':'3.5,2.5'},gF);
 
 });
const clusterNums=['12','9','7','5','8','10','2','6','1','3','11','4'];
const clusterNX=[906,946,858,886,946,971,915,854,956,929,881,905];
const clusterNY=[1387,1405,1441,1436,1450,1453,1480,1494,1492,1517,1528,1531];
clusterNums.forEach((n,i)=>{const t=tx(clusterNX[i],clusterNY[i],n,12,{'font-weight':'bold','text-anchor':'middle'});gF.appendChild(t);
 
 });
const ft=tx(782,1486,'FST',22,{class:'serif','font-style':'italic'});gF.appendChild(ft);


const ncb=mk('rect',{x:874,y:1294,width:10,height:46,fill:'url(#gradUmap)'},gF);


const nanogTicks=['2.0','1.5','1.0','0.5','0.0'];
nanogTicks.forEach((s,i)=>{const t=tx(887,1300+i*10.3,s,8);gF.appendChild(t);
 
 });
const fcb=mk('rect',{x:1012,y:1405,width:9,height:50,fill:'url(#gradUmap)'},gF);


const fstTicks=['4','3','2','1','0'];
fstTicks.forEach((s,i)=>{const t=tx(1025,1413+i*10.4,s,7.5);gF.appendChild(t);
 
 });
const arr=mk('path',{d:'M641,1477 V1522 H684',fill:'none',stroke:'#000','stroke-width':1.6},gF);


const ah1=mk('path',{d:'M637,1482 L641,1471 L645,1482Z',fill:'#000'},gF);


const ah2=mk('path',{d:'M681,1518 L692,1522 L681,1526Z',fill:'#000'},gF);


const u2=tx(0,0,'UMAP_2',12,{transform:'translate(622,1492) rotate(-90)','text-anchor':'middle','font-weight':'bold'});gF.appendChild(u2);


const u1=tx(646,1541,'UMAP_1',12,{'font-weight':'bold'});gF.appendChild(u1);


const cells=tx(990,1557,'5153 cells',16,{class:'serif'});gF.appendChild(cells);


</script>
</body></html>
